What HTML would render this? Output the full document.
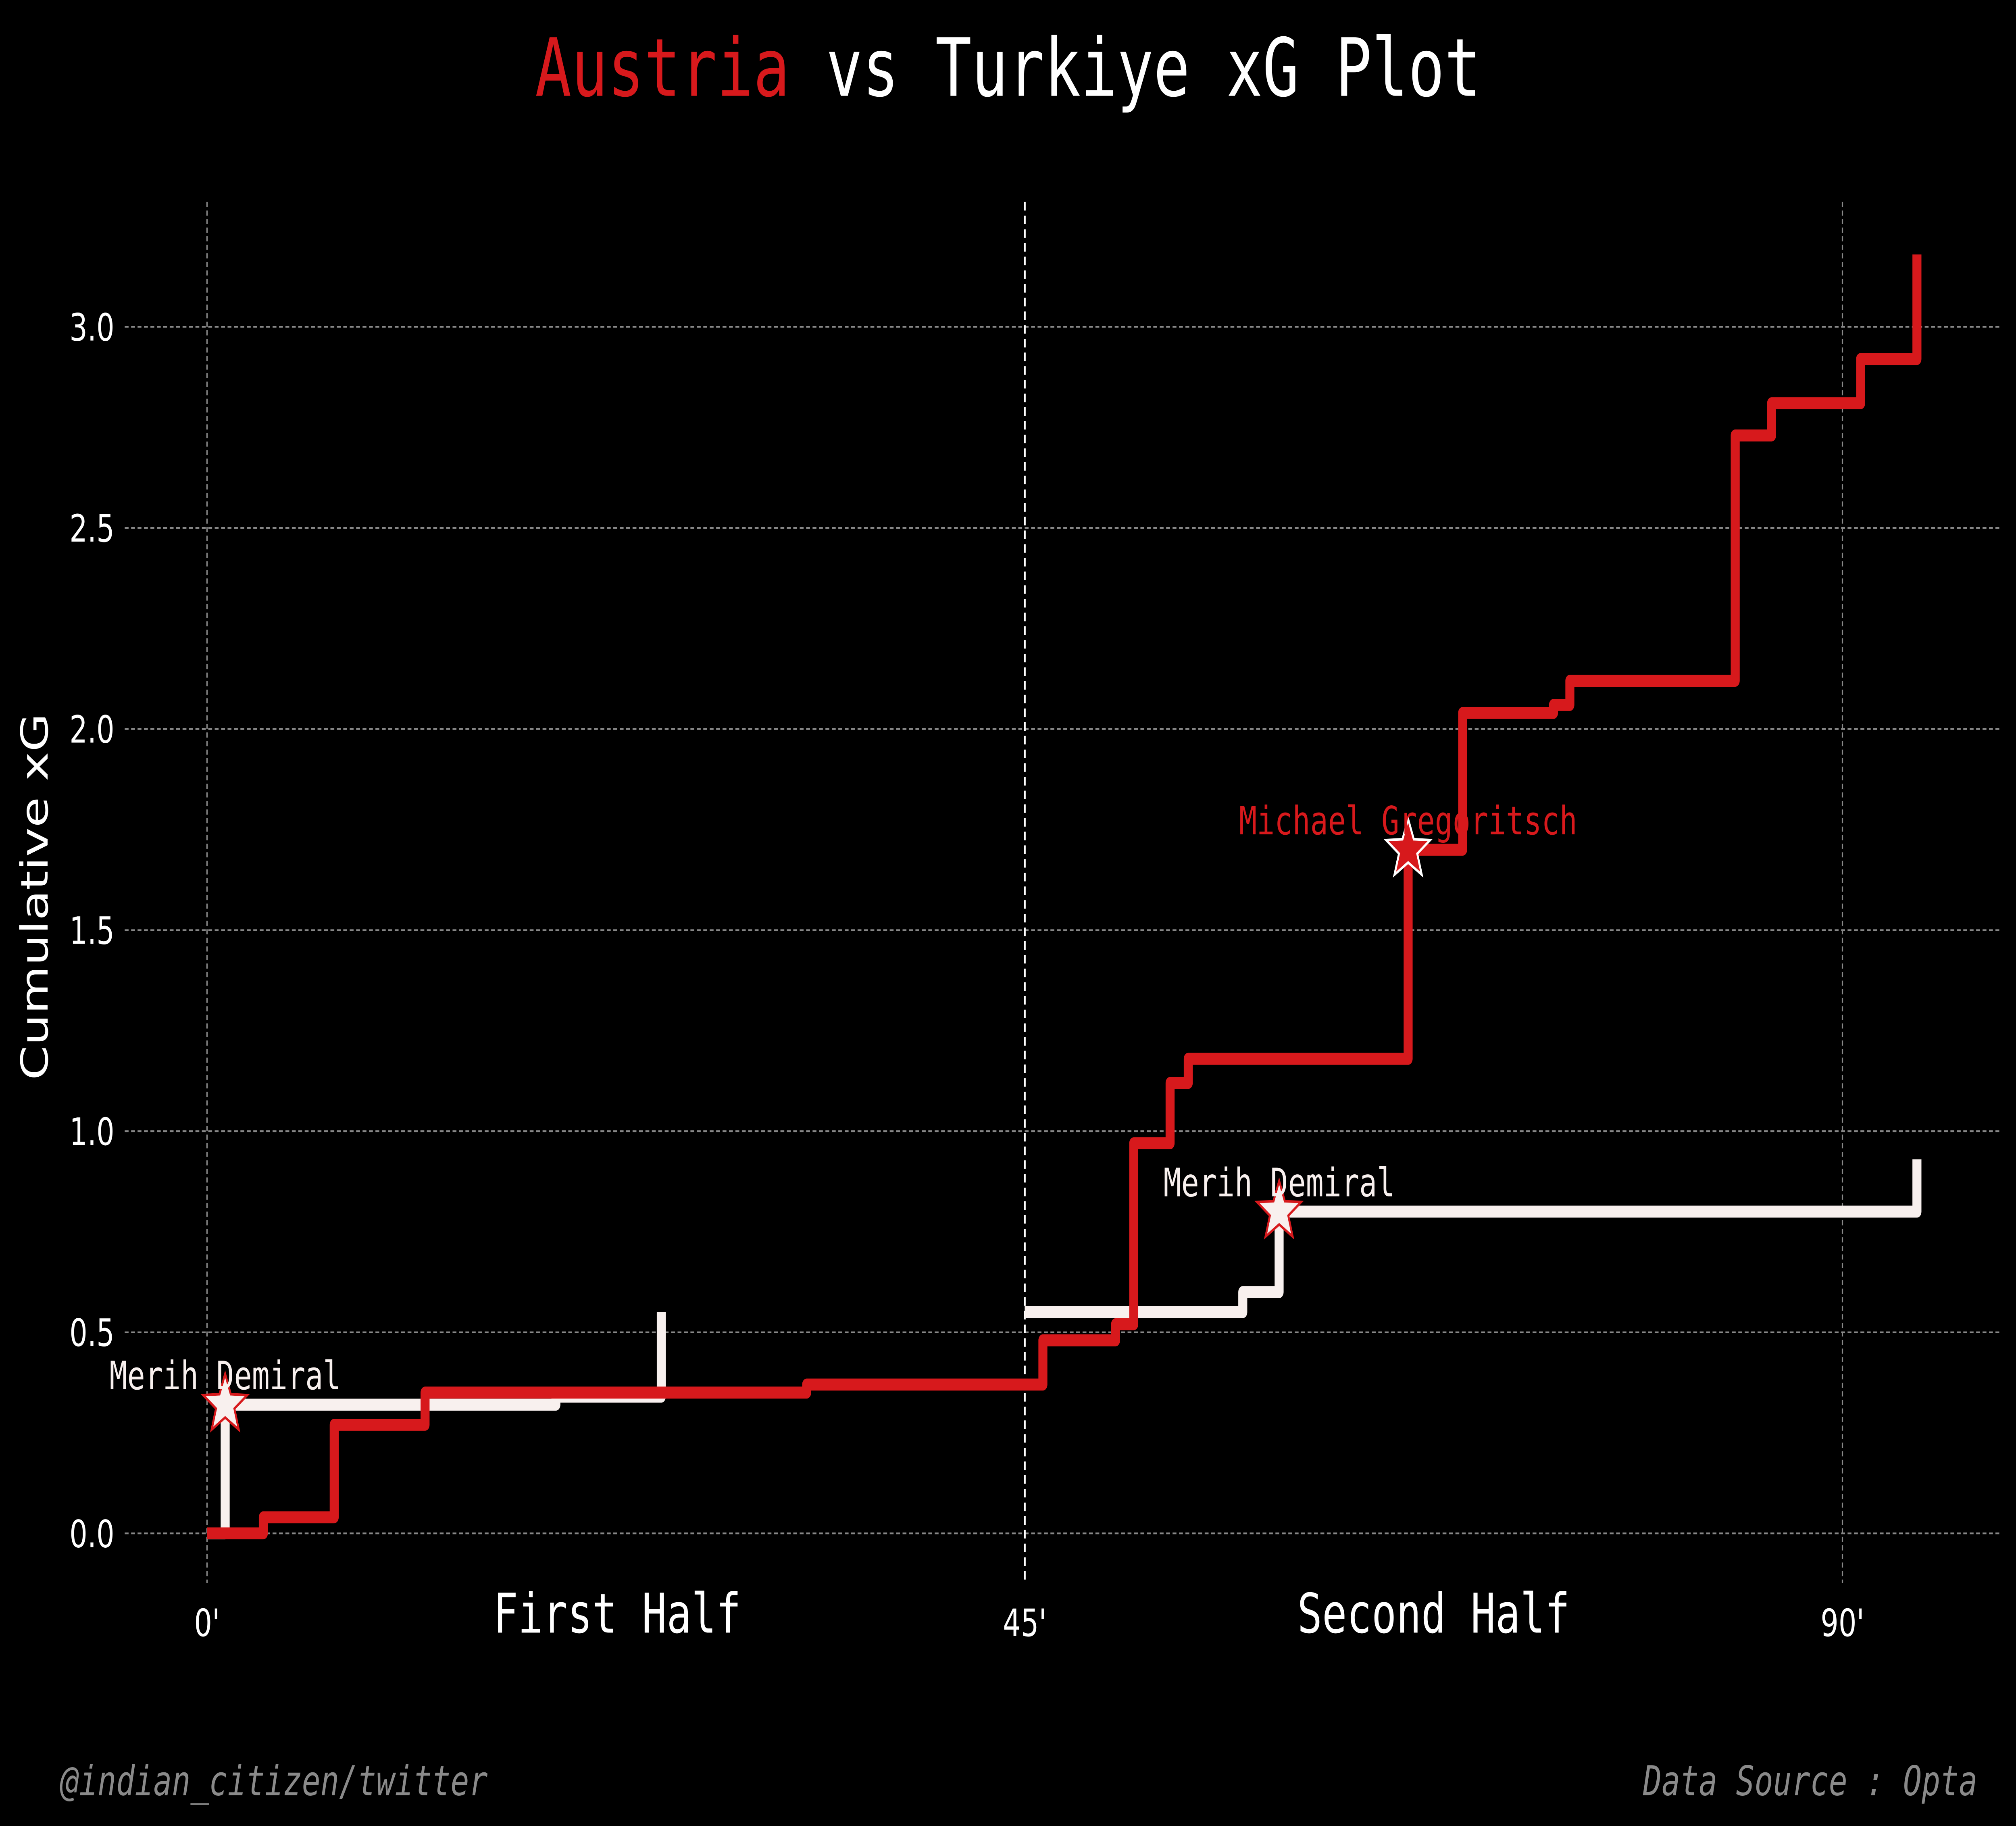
<!DOCTYPE html>
<html><head><meta charset="utf-8"><style>
html,body{margin:0;padding:0;background:#000;width:100vw;height:100vh;overflow:hidden}
svg{display:block;width:100vw;height:100vh}
</style></head><body>
<svg id="chart" viewBox="0 0 1568 1067" preserveAspectRatio="none" xmlns="http://www.w3.org/2000/svg">
<rect width="1568" height="1067" fill="#000"/>
<text x="784" y="56" text-anchor="middle" font-family="'DejaVu Sans Mono','Liberation Mono',monospace" font-size="47" fill="#fff"><tspan fill="#d7191c">Austria</tspan> vs Turkiye xG Plot</text>
<g id="grid"></g>
<g id="axes"></g>
<g id="series"></g>
<g id="marks"></g>
<text transform="translate(37,524) rotate(-90)" text-anchor="middle" font-family="'DejaVu Sans','Liberation Sans',sans-serif" font-size="29" fill="#fff">Cumulative xG</text>
<text x="480" y="954" text-anchor="middle" font-family="'DejaVu Sans Mono','Liberation Mono',monospace" font-size="32" fill="#fff">First Half</text>
<text x="1115" y="954" text-anchor="middle" font-family="'DejaVu Sans Mono','Liberation Mono',monospace" font-size="32" fill="#fff">Second Half</text>
<text x="47" y="1049" font-family="'DejaVu Sans Mono','Liberation Mono',monospace" font-style="italic" font-size="24" fill="#8a8a8a">@indian_citizen/twitter</text>
<text x="1538" y="1049" text-anchor="end" font-family="'DejaVu Sans Mono','Liberation Mono',monospace" font-style="italic" font-size="24" fill="#8a8a8a">Data Source : Opta</text>
</svg>
<script>
const yTicks = [0, 0.5, 1.0, 1.5, 2.0, 2.5, 3.0];
const yTickLabels = ["0.0","0.5","1.0","1.5","2.0","2.5","3.0"];
const xTicks = [0, 45, 90];
const xTickLabels = ["0'","45'","90'"];
const austriaMinutes = [0, 3.1, 7.0, 12.0, 33.0, 46.0, 50.0, 51.0, 53.0, 54.0, 66.1, 69.1, 74.1, 75.0, 84.1, 86.1, 91.0, 94.1];
const austriaXG = [0, 0.04, 0.27, 0.35, 0.37, 0.48, 0.52, 0.97, 1.12, 1.18, 1.70, 2.04, 2.06, 2.12, 2.73, 2.81, 2.92, 3.18];
const turkiyeH1Minutes = [1.0, 19.2, 25.0];
const turkiyeH1XG = [0.32, 0.34, 0.55];
const turkiyeH2Minutes = [45, 57.0, 59.0, 94.1];
const turkiyeH2XG = [0.55, 0.60, 0.80, 0.93];
const goalMinutes = [1.0, 59.0, 66.1];
const goalXG = [0.32, 0.80, 1.70];
const goalPlayers = ["Merih Demiral", "Merih Demiral", "Michael Gregoritsch"];
const goalTeams = ["tur", "tur", "aut"];

const NS = "http://www.w3.org/2000/svg";
const X0 = 161, XPM = (1433-161)/90;
const Y0 = 896, YPU = (896-191)/3;
const xs = m => X0 + m*XPM;
const ys = v => Y0 - v*YPU;
const PL = 97, PR = 1556, PT = 118, PB = 925;
const RED = "#d7191c", WHITE = "#f8f0ee";
function mk(tag, attrs, parent){const e=document.createElementNS(NS,tag);for(const k in attrs)e.setAttribute(k,attrs[k]);parent.appendChild(e);return e;}
const grid=document.getElementById('grid'), axes=document.getElementById('axes'), series=document.getElementById('series'), marks=document.getElementById('marks');
const sans="'DejaVu Sans','Liberation Sans',sans-serif", mono="'DejaVu Sans Mono','Liberation Mono',monospace";
yTicks.forEach((v,i)=>{
  const l=mk('line',{x1:PL,x2:PR,y1:ys(v),y2:ys(v),stroke:'#888','stroke-width':1,'stroke-dasharray':'3,2'},grid);
  
  
  const t=mk('text',{x:89,y:ys(v)+8,'text-anchor':'end','font-family':sans,'font-size':22,fill:'#fff'},axes);
  t.textContent=yTickLabels[i];
  
  
});
xTicks.forEach((m,i)=>{
  if(m!==45){
    const l=mk('line',{x1:xs(m),x2:xs(m),y1:PT,y2:PB,stroke:'#888','stroke-width':1,'stroke-dasharray':'3,2'},grid);
    
    
  }
  const t=mk('text',{x:xs(m),y:956,'text-anchor':'middle','font-family':sans,'font-size':22,fill:'#fff'},axes);
  t.textContent=xTickLabels[i];
  
  
});
const half=mk('line',{x1:xs(45),x2:xs(45),y1:PT,y2:PB,stroke:'#fff','stroke-width':1.5,'stroke-dasharray':'5,3'},grid);



function stepPath(ms, vs, start){
  let d = start ? `M${xs(start[0])},${ys(start[1])}` : `M${xs(ms[0])},${ys(vs[0])}`;
  let curV = start ? start[1] : vs[0];
  ms.forEach((m,i)=>{ d+=` L${xs(m)},${ys(curV)} L${xs(m)},${ys(vs[i])}`; curV=vs[i]; });
  return d;
}
const t1=mk('path',{d:stepPath(turkiyeH1Minutes,turkiyeH1XG,[0,0]),fill:'none',stroke:WHITE,'stroke-width':7,'stroke-linejoin':'round'},series);


const t2=mk('path',{d:stepPath(turkiyeH2Minutes,turkiyeH2XG),fill:'none',stroke:WHITE,'stroke-width':7,'stroke-linejoin':'round'},series);


const a=mk('path',{d:stepPath(austriaMinutes,austriaXG,[0,0]),fill:'none',stroke:RED,'stroke-width':7,'stroke-linejoin':'round'},series);



function starPts(cx,cy,R,r){let p=[];for(let i=0;i<10;i++){const ang=-Math.PI/2+i*Math.PI/5;const rr=i%2?r:R;p.push((cx+rr*Math.cos(ang)).toFixed(1)+','+(cy+rr*Math.sin(ang)).toFixed(1));}return p.join(' ');}
goalMinutes.forEach((m,i)=>{
  const aut=goalTeams[i]==='aut';
  const s=mk('polygon',{points:starPts(xs(m),ys(goalXG[i]),18,7.5),fill:aut?RED:WHITE,stroke:aut?'#fff':RED,'stroke-width':1.5},marks);
  
  
  const t=mk('text',{x:xs(m),y:ys(goalXG[i])-9,'text-anchor':'middle','font-family':mono,'font-size':23,fill:aut?RED:WHITE},marks);
  t.textContent=goalPlayers[i];
  
  
});
</script>
</body></html>
